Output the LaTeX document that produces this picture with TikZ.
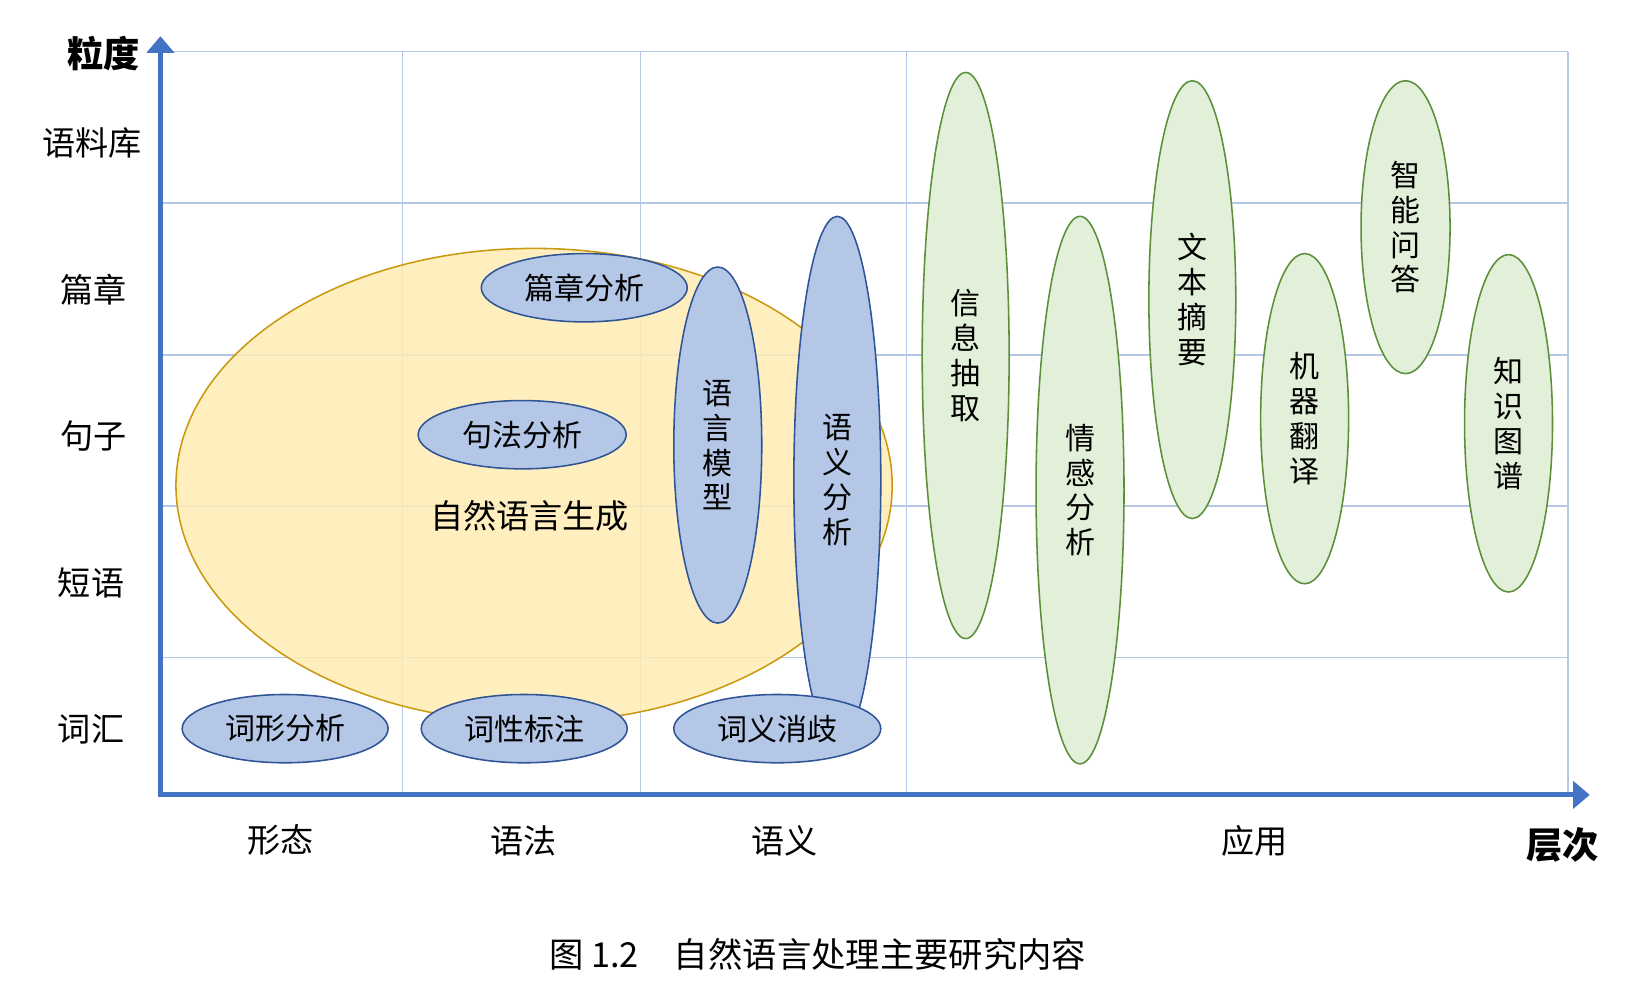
\documentclass[tikz,border=0pt]{standalone}
\usepackage{fontspec}
\setmainfont{Noto Sans CJK SC}
\usetikzlibrary{shapes.geometric,arrows.meta}
\definecolor{gridc}{HTML}{B4C7E7}
\definecolor{axisc}{HTML}{4472C4}
\definecolor{bluef}{HTML}{B4C7E7}
\definecolor{blued}{HTML}{2F5597}
\definecolor{greenf}{HTML}{E2F0D9}
\definecolor{greend}{HTML}{5B8F3A}
\definecolor{yelf}{HTML}{FFECB4}
\definecolor{yeld}{HTML}{C99A10}
\begin{document}
\begin{tikzpicture}[x=0.5pt,y=-0.5pt,
  gridline/.style={draw=gridc,line width=0.65pt},
  axisline/.style={draw=axisc,line width=2.5pt,line cap=rect,-{Triangle[length=8pt,width=13pt]}},
  lbl/.style={font=\fontsize{16pt}{19pt}\selectfont,inner sep=0},
  caplbl/.style={font=\fontsize{16.6pt}{19pt}\selectfont,inner sep=0},
  ttl/.style={font=\fontsize{17.5pt}{20pt}\selectfont\bfseries,inner sep=0},
  ellbase/.style={ellipse,inner sep=0,line width=0.75pt,align=center,font=\fontsize{14.5pt}{16.85pt}\selectfont},
  blueell/.style={ellbase,draw=blued,fill=bluef},
  greenell/.style={ellbase,draw=greend,fill=greenf},
  sz/.style 2 args={minimum width=#1,minimum height=#2}]
\useasboundingbox (0,0) rectangle (1571,962);
% grid
\foreach \yy in {50,196,343,489,635} \draw[gridline] (155,\yy) -- (1515,\yy);
\foreach \xx in {389,619,876,1515} \draw[gridline] (\xx,50) -- (\xx,768);
% yellow region
\node[ellipse,draw=yeld,fill=yelf,fill opacity=0.85,line width=0.75pt,inner sep=0,sz={346pt}{229pt}] (nlg) at (516,469) {};
\node[lbl] (nlgt) at (511.5,498) {自然语言生成};
% blue ellipses
\node[blueell,sz={99.5pt}{33pt}] (pzfx) at (564.5,278) {篇章分析};
\node[blueell,sz={100.5pt}{33pt}] (jffx) at (504.5,420) {句法分析};
\node[blueell,sz={42.5pt}{172pt}] (yymx) at (693.5,430) {语\\言\\模\\型};
\node[blueell,sz={42pt}{255pt}] (yyfx) at (809,464) {语\\义\\分\\析};
\node[blueell,sz={99.5pt}{33pt}] (cxfx) at (275.5,704) {词形分析};
\node[blueell,sz={99.5pt}{33pt}] (cxbz) at (506.5,704) {词性标注};
\node[blueell,sz={100pt}{33pt}] (cyxq) at (751,704) {词义消歧};
% green ellipses
\node[greenell,sz={42pt}{273.5pt}] (xxcq) at (933,343.5) {信\\息\\抽\\取};
\node[greenell,sz={42.5pt}{264.5pt}] (qgfx) at (1043.5,473.5) {情\\感\\分\\析};
\node[greenell,sz={42pt}{211.5pt}] (wbzy) at (1152,289.5) {文\\本\\摘\\要};
\node[greenell,sz={42.5pt}{159.5pt}] (jqfy) at (1260.5,404.5) {机\\器\\翻\\译};
\node[greenell,sz={43pt}{141.5pt}] (znwd) at (1358,219.5) {智\\能\\问\\答};
\node[greenell,sz={42.5pt}{163pt}] (zstp) at (1457.5,409) {知\\识\\图\\谱};
% axes
\coordinate (o) at (155,768);
\coordinate (ytip) at (155,35);
\coordinate (xtip) at (1536,768);
\draw[axisline] (o) -- (ytip);
\draw[axisline] (o) -- (xtip);
% axis labels
\node[ttl] (lidu) at (100,52) {粒度};
\node[lbl] (ylk) at (89,138) {语料库};
\node[lbl] (pz) at (90,280) {篇章};
\node[lbl] (jz) at (90,421) {句子};
\node[lbl] (dy) at (88,563) {短语};
\node[lbl] (ch) at (88,705) {词汇};
\node[lbl] (xt) at (271,812) {形态};
\node[lbl] (yf) at (506,812) {语法};
\node[lbl] (yy) at (758,812) {语义};
\node[lbl] (yingy) at (1212,812) {应用};
\node[ttl] (cc) at (1510,816) {层次};
% caption
\node[caplbl] (cap) at (790,922) {图 1.2\hspace{17pt}自然语言处理主要研究内容};
\end{tikzpicture}
\end{document}
